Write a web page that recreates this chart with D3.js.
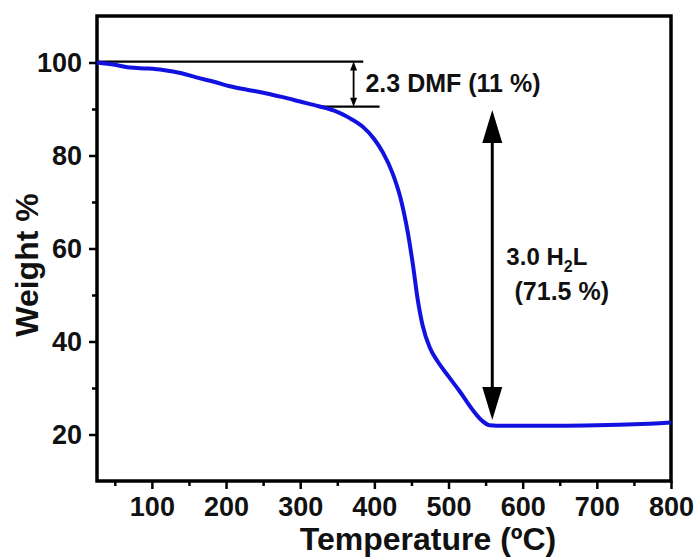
<!DOCTYPE html>
<html lang="en">
<head>
    <meta charset="UTF-8">
    <title>TGA curve</title>
    <script src="https://cdn.jsdelivr.net/npm/d3@7"></script>
    <style>
      html, body { margin: 0; padding: 0; background: #fff; }
      svg { display: block; font-family: "Liberation Sans", Arial, sans-serif; font-weight: bold; }
    </style>
</head>
<body>
    <div id="container"></div>

    <script>
      // TGA data
      const temperature = [26, 50, 70, 95, 115, 140, 160, 185, 205, 230, 250, 275, 300, 325, 345, 365, 385, 400, 412, 425, 435, 445, 452, 458, 465, 475, 485, 500, 515, 532, 545, 555, 565, 600, 650, 700, 750, 800];
      const weight = [100.0, 99.5, 98.9, 98.7, 98.4, 97.7, 96.8, 95.8, 94.9, 94.1, 93.5, 92.6, 91.6, 90.6, 89.7, 88.2, 86.1, 83.5, 80.5, 76.0, 71.0, 63.5, 56.5, 49.5, 43.5, 38.6, 35.8, 32.5, 29.3, 25.4, 23.0, 22.0, 21.9, 21.9, 21.9, 22.0, 22.2, 22.6];

      const xTicks = [100, 200, 300, 400, 500, 600, 700, 800];
      const xMinorTicks = [50, 150, 250, 350, 450, 550, 650, 750];
      const yTicks = [20, 40, 60, 80, 100];
      const yMinorTicks = [30, 50, 70, 90];

      // annotation values (temperature, weight %)
      const dmfLevels = [[26, 385, 100.2], [326, 407, 90.5]];
      const dmfArrow = [372, 100.2, 90.5];
      const ligandArrow = [559, 89.8, 23.1];
      const dmfLabel = "2.3 DMF (11 %)";
      const ligandLabel = ["3.0 H", "2", "L"];
      const ligandPercent = "(71.5 %)";

      const width = 698;
      const height = 557;
      const marginTop = 16;
      const marginRight = 27;
      const marginBottom = 76;
      const marginLeft = 97;

      const x = d3.scaleLinear()
          .domain([26, 800])
          .range([marginLeft, width - marginRight]);

      const y = d3.scaleLinear()
          .domain([10, 110])
          .range([height - marginBottom, marginTop]);

      const svg = d3.create("svg")
          .attr("width", width)
          .attr("height", height);

      // minor ticks
      svg.append("g")
          .attr("transform", `translate(0,${height - marginBottom})`)
          .call(d3.axisBottom(x).tickValues(xMinorTicks).tickSize(5).tickFormat(""))
          .call(g => g.select(".domain").remove())
          .call(g => g.selectAll("line").attr("stroke-width", 2.5));

      svg.append("g")
          .attr("transform", `translate(${marginLeft},0)`)
          .call(d3.axisLeft(y).tickValues(yMinorTicks).tickSize(5).tickFormat(""))
          .call(g => g.select(".domain").remove())
          .call(g => g.selectAll("line").attr("stroke-width", 2.5));

      // major ticks + labels
      svg.append("g")
          .attr("transform", `translate(0,${height - marginBottom})`)
          .call(d3.axisBottom(x).tickValues(xTicks).tickSize(8).tickPadding(8))
          .call(g => g.select(".domain").remove())
          .call(g => g.selectAll("line").attr("stroke-width", 2.5))
          .call(g => g.selectAll("text")
              .attr("font-size", 27)
              .attr("font-family", "Liberation Sans, Arial, sans-serif")
              .attr("font-weight", "bold")
              .attr("fill", "#111"));

      svg.append("g")
          .attr("transform", `translate(${marginLeft},0)`)
          .call(d3.axisLeft(y).tickValues(yTicks).tickSize(8).tickPadding(7))
          .call(g => g.select(".domain").remove())
          .call(g => g.selectAll("line").attr("stroke-width", 2.5))
          .call(g => g.selectAll("text")
              .attr("font-size", 27)
              .attr("font-family", "Liberation Sans, Arial, sans-serif")
              .attr("font-weight", "bold")
              .attr("fill", "#111"));

      // frame
      svg.append("rect")
          .attr("x", marginLeft)
          .attr("y", marginTop)
          .attr("width", width - marginLeft - marginRight)
          .attr("height", height - marginTop - marginBottom)
          .attr("fill", "none")
          .attr("stroke", "#000")
          .attr("stroke-width", 3.5);

      // annotation lines
      svg.append("g")
          .selectAll("line")
          .data(dmfLevels)
          .join("line")
          .attr("x1", d => x(d[0]))
          .attr("x2", d => x(d[1]))
          .attr("y1", d => y(d[2]))
          .attr("y2", d => y(d[2]))
          .attr("stroke", "#000")
          .attr("stroke-width", 2.2);

      function doubleArrow(a, headW, headL, sw) {
          const g = svg.append("g");
          const ax = x(a[0]);
          const yTop = y(a[1]);
          const yBot = y(a[2]);
          g.append("line")
              .attr("x1", ax).attr("x2", ax)
              .attr("y1", yTop + headL - 1).attr("y2", yBot - headL + 1)
              .attr("stroke", "#000")
              .attr("stroke-width", sw);
          g.append("path")
              .attr("d", `M${ax},${yTop}L${ax - headW / 2},${yTop + headL}L${ax + headW / 2},${yTop + headL}Z`)
              .attr("fill", "#000");
          g.append("path")
              .attr("d", `M${ax},${yBot}L${ax - headW / 2},${yBot - headL}L${ax + headW / 2},${yBot - headL}Z`)
              .attr("fill", "#000");
      }

      doubleArrow(dmfArrow, 7, 9, 1.8);
      doubleArrow(ligandArrow, 20, 33, 3);

      // curve
      const line = d3.line()
          .x((d, i) => x(temperature[i]))
          .y(d => y(d))
          .curve(d3.curveMonotoneX);

      svg.append("path")
          .datum(weight)
          .attr("d", line)
          .attr("fill", "none")
          .attr("stroke", "#1212e0")
          .attr("stroke-width", 4)
          .attr("stroke-linejoin", "round");

      // labels
      svg.append("text")
          .attr("x", x(388))
          .attr("y", y(93.7))
          .attr("font-size", 25)
          .attr("fill", "#111")
          .text(dmfLabel);

      const lt = svg.append("text")
          .attr("x", x(578))
          .attr("y", y(56.5))
          .attr("font-size", 24)
          .attr("fill", "#111");
      lt.append("tspan").text(ligandLabel[0]);
      lt.append("tspan").attr("font-size", 16).attr("dy", 7).text(ligandLabel[1]);
      lt.append("tspan").attr("dy", -7).text(ligandLabel[2]);

      svg.append("text")
          .attr("x", x(589))
          .attr("y", y(48.9))
          .attr("font-size", 25)
          .attr("fill", "#111")
          .text(ligandPercent);

      // axis titles
      svg.append("text")
          .attr("x", 428)
          .attr("y", 550)
          .attr("text-anchor", "middle")
          .attr("font-size", 32)
          .attr("fill", "#111")
          .text("Temperature (ºC)");

      svg.append("text")
          .attr("transform", "translate(38,265) rotate(-90)")
          .attr("text-anchor", "middle")
          .attr("font-size", 32)
          .attr("fill", "#111")
          .text("Weight %");

      document.getElementById("container").append(svg.node());
    </script>
</body>
</html>
